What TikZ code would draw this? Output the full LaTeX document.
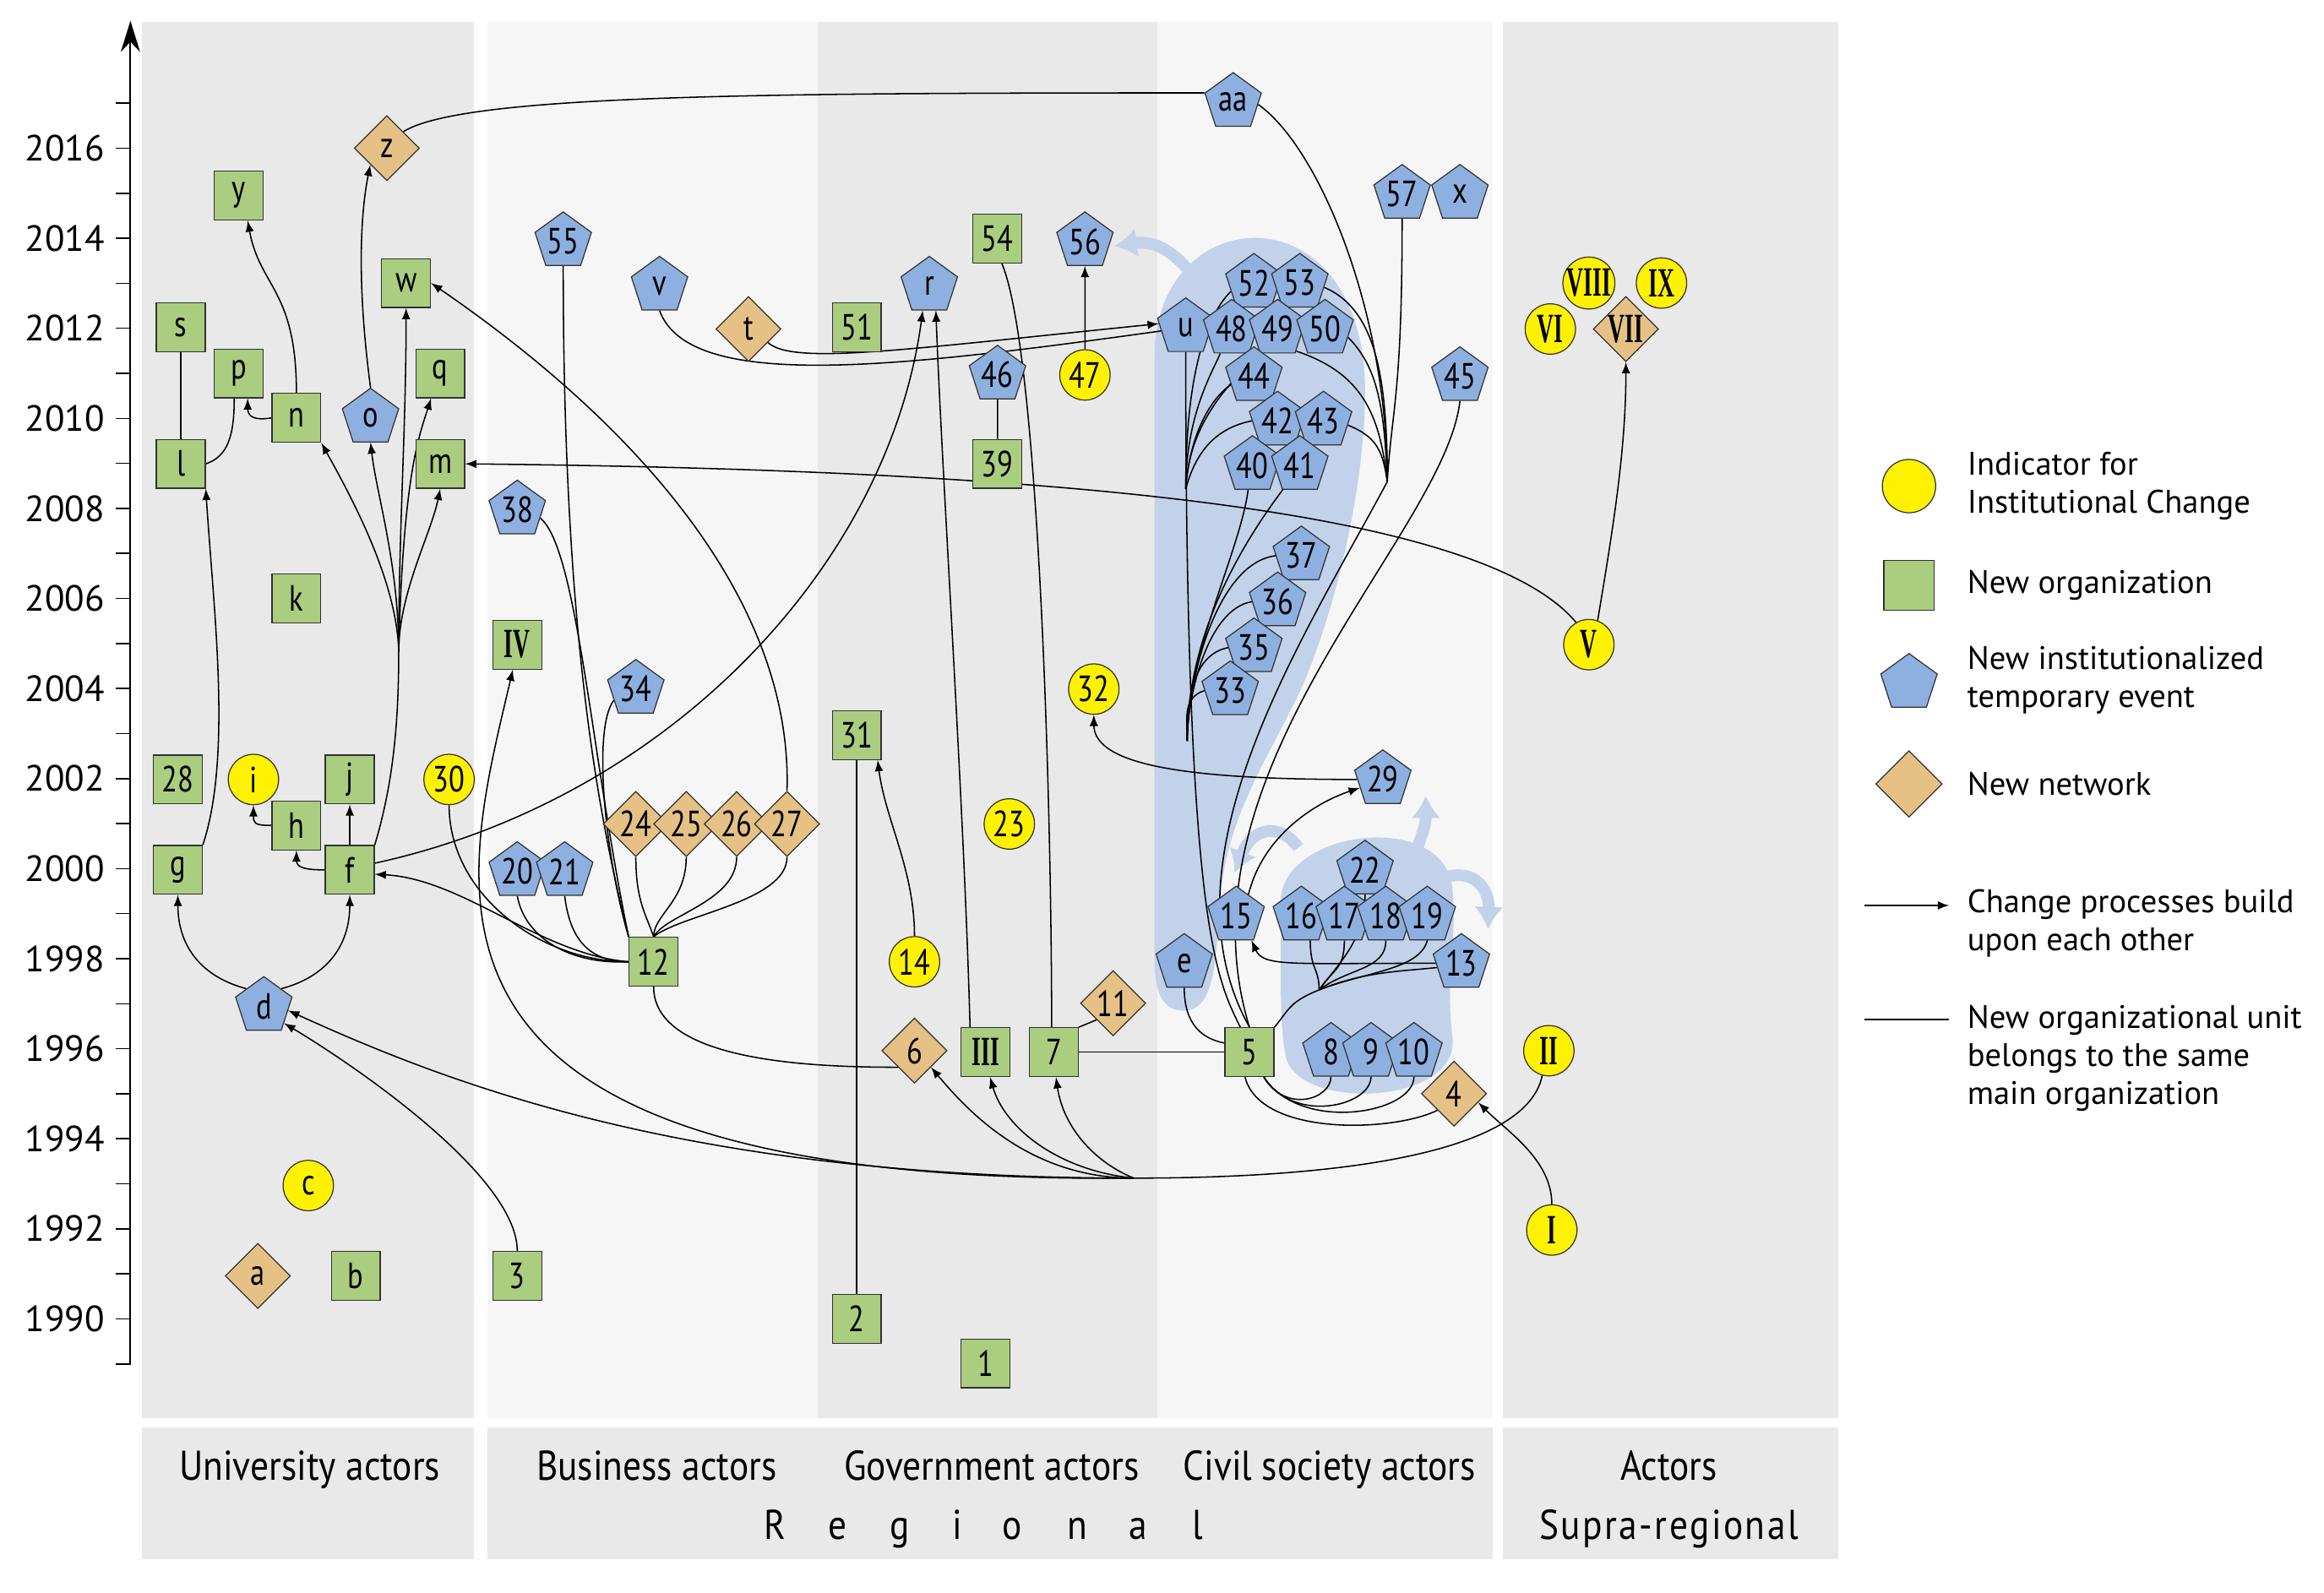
\documentclass[tikz,border=0pt]{standalone}
\usepackage{fontspec}
\setmainfont{PT Sans}
\newfontfamily\nodefont[FakeStretch=0.8]{PT Sans}
\newfontfamily\labelfont[FakeStretch=0.88]{PT Sans}
\newfontfamily\romanfont[FakeStretch=0.56]{Liberation Serif}
\usetikzlibrary{arrows, arrows.meta, shapes.geometric}
\definecolor{orggreen}{RGB}{170,205,128}
\definecolor{eventblue}{RGB}{142,176,224}
\definecolor{netorange}{RGB}{229,193,134}
\definecolor{indyellow}{RGB}{255,242,0}
\definecolor{banddark}{RGB}{233,233,233}
\definecolor{bandlight}{RGB}{246,246,246}
\definecolor{blobblue}{RGB}{194,210,234}
\definecolor{nodeline}{RGB}{50,50,50}
\pgfdeclarelayer{bands}
\pgfdeclarelayer{edges}
\pgfsetlayers{bands,edges,main}

\begin{document}
\begin{tikzpicture}[x=0.02cm, y=-0.02cm,
    shapetext/.style={inner sep=0pt, draw=nodeline, font=\nodefont\fontsize{14}{16}\selectfont},
    org/.style={shapetext, fill=orggreen, minimum size=0.66cm},
    event/.style={shapetext, regular polygon, regular polygon sides=5, fill=eventblue, minimum size=0.8cm},
    net/.style={shapetext, diamond, fill=netorange, minimum size=0.88cm},
    ind/.style={shapetext, circle, fill=indyellow, minimum size=0.68cm},
    rom/.style={font=\romanfont\bfseries\fontsize{16}{18}\selectfont},
    arr/.style={-latex, line width=0.5pt},
    same/.style={line width=0.5pt},
    blobarrow/.style={blobblue, line width=4.5pt, -{Latex[length=0.3cm, width=0.4cm]}},
    yearlabel/.style={anchor=east, inner sep=0pt, font=\fontsize{14}{16}\selectfont},
    bandlabel/.style={anchor=base, inner sep=0pt, font=\labelfont\fontsize{16}{18}\selectfont},
    legtext/.style={anchor=west, align=left, inner sep=0pt, font=\fontsize{12.5}{14.5}\selectfont}]
  \useasboundingbox (0,0) rectangle (1568,1074.4);

  \coordinate (YAxisMin) at (88,921);
  \coordinate (YAxisMax) at (88,14);
  \coordinate (FBundle) at (269,440);
  \coordinate (IIBundle) at (765,795);
  \coordinate (ULeft) at (800,330);
  \coordinate (ULow) at (801,500);
  \coordinate (URight) at (936,325);
  \coordinate (FiveFan) at (890,668);

  % actor columns and label bands
  \begin{pgfonlayer}{bands}
    \fill[banddark] (96,15) rectangle (320,957);
    \fill[bandlight] (329,15) rectangle (552,957);
    \fill[banddark] (552,15) rectangle (781,957);
    \fill[bandlight] (781,15) rectangle (1007,957);
    \fill[banddark] (1014,15) rectangle (1240,957);
    \fill[banddark] (96,963) rectangle (320,1052);
    \fill[banddark] (329,963) rectangle (1007,1052);
    \fill[banddark] (1014,963) rectangle (1240,1052);
    % clusters of events
    \fill[blobblue] (779,240) .. controls (779,135) and (921,125) .. (921,265)
      .. controls (921,320) and (905,400) .. (880,460)
      .. controls (860,505) and (830,545) .. (824,600)
      .. controls (820,640) and (822,680) .. (800,682)
      .. controls (785,683) and (779,670) .. (779,650) -- cycle;
    \fill[blobblue] (864,610) .. controls (862,560) and (975,545) .. (980,600)
      .. controls (983,640) and (975,660) .. (980,700)
      .. controls (985,745) and (880,750) .. (868,715)
      .. controls (862,690) and (865,640) .. (864,610) -- cycle;
    \draw[blobarrow] (805,186) .. controls (792,170) and (780,162) .. (752,166);
    \draw[blobarrow] (876,572) .. controls (864,555) and (845,558) .. (833,589);
    \draw[blobarrow] (955,580) .. controls (957,566) and (962,560) .. (962,537);
    \draw[blobarrow] (975,592) .. controls (995,586) and (1005,600) .. (1004,627);
  \end{pgfonlayer}

  \draw[line width=0.6pt, -{Stealth[length=0.42cm, width=0.26cm]}] (YAxisMin) -- (YAxisMax);% Draw time axis
  \foreach \yr in {1989,...,2017}
    \draw[line width=0.5pt] (78,{890-(\yr-1990)*30.385}) -- (88,{890-(\yr-1990)*30.385});
  \foreach \yr in {1990,1992,...,2016}
    \node[yearlabel] (Y\yr) at (71,{890-(\yr-1990)*30.385}) {\yr};

  % new organizations
  \foreach \n/\x/\y in {s/122/221, l/122/313, p/161/252, y/161/132, n/200/282, w/274/191,
      q/297/252, m/297/313, k/200/404, 28/120/526, j/236/526, h/200/557, f/236/587,
      g/120/587, b/240/861, 3/349/861, 12/441/649, 31/578/496, 2/578/890, 1/665/920,
      51/578/221, 54/673/161, 39/673/313, 7/711/710, 5/843/710}
    \node[org] (\n) at (\x,\y) {\n};
  \node[org, rom] (IV) at (349,435) {IV};
  \node[org, rom] (III) at (665,710) {III};

  % new institutionalized temporary events
  \foreach \n/\x/\y in {o/250/282, 55/380/163, v/445/193, r/627/193, 56/732/163, 46/673/253,
      aa/832/69, 57/946/131, x/985/131, 38/349/344, 34/429/465, 20/349/588, 21/381/588,
      d/178/679, 45/985/254, 52/846/191, 53/877/191, u/800/221, 48/831/222, 49/862/222,
      50/894/222, 44/846/254, 42/862/284, 43/893/284, 40/845/314, 41/877/314, 37/878/375,
      36/862/406, 35/846/437, 33/830/466, 29/933/526, 22/921/587, 15/834/618, 16/878/618,
      17/907/618, 18/935/618, 19/963/618, 13/986/650, e/799/650, 8/898/710, 9/925/710, 10/954/710}
    \node[event] (\n) at (\x,\y) {\n};

  % new networks
  \foreach \n/\x/\y in {z/261/100, t/505/222, a/174/861, 24/429/556, 25/463/556, 26/497/556,
      27/531/556, 6/617/709, 11/751/677, 4/981/738}
    \node[net] (\n) at (\x,\y) {\n};
  \node[net, rom] (VII) at (1097,222) {VII};

  % indicators for institutional change
  \foreach \n/\x/\y in {c/208/800, i/171/526, 30/303/526, 47/732/253, 32/738/465, 23/681/556, 14/617/649}
    \node[ind] (\n) at (\x,\y) {\n};
  \node[ind, rom] (I) at (1047,830) {I};
  \node[ind, rom] (II) at (1045,709) {II};
  \node[ind, rom] (V) at (1072,435) {V};
  \node[ind, rom] (VI) at (1046,222) {VI};
  \node[ind, rom] (VIII) at (1072,191) {VIII};
  \node[ind, rom] (IX) at (1121,191) {IX};

  \begin{pgfonlayer}{edges}
    % university actors
    \draw[same] (s) -- (l);
    \draw[same] (l.east) .. controls +(15,-5) and +(0,25) .. (p.-100);
    \draw[arr] (n.west) .. controls +(-12,2) and +(0,12) .. (p.-70);
    \draw[arr] (n.north) .. controls +(0,-70) and +(8,45) .. (y.-70);
    \draw[arr] (g.north east) .. controls +(20,-60) and +(5,80) .. (l.south east);
    \draw[arr] (o.north) .. controls +(-8,-60) and +(-8,40) .. (z.south west);
    \draw[arr] (d.north west) .. controls +(-30,-8) and +(0,35) .. (g.south);
    \draw[arr] (d.north east) .. controls +(30,-8) and +(0,35) .. (f.south);
    \draw[arr] (f.west) .. controls +(-12,0) and +(0,12) .. (h.south);
    \draw[arr] (h.west) .. controls +(-12,0) and +(0,12) .. (i.south);
    \draw[arr] (f.north) -- (j.south);
    \draw[same] (f.north east) .. controls +(12,-40) and +(0,50) .. (FBundle);
    \draw[arr] (FBundle) .. controls +(-1,-50) and +(17,31) .. (n.south east);
    \draw[arr] (FBundle) .. controls +(0,-60) and +(4,35) .. (o.south);
    \draw[arr] (FBundle) .. controls +(0,-80) and +(0,80) .. (w.south);
    \draw[arr] (FBundle) .. controls +(3,-120) and +(-8,25) .. (q.-110);
    \draw[arr] (FBundle) .. controls +(0,-40) and +(-6,30) .. (m.south);
    \draw[arr] (3.north) .. controls +(0,-50) and +(50,30) .. (d.-40);
    % supra-regional change spreading
    \draw[same] (II.-105) .. controls +(-10,50) and +(150,0) .. (IIBundle);
    \draw[arr] (IIBundle) .. controls +(-70,0) and +(25,30) .. (6.south east);
    \draw[arr] (IIBundle) .. controls +(-50,-5) and +(10,35) .. (III.-80);
    \draw[arr] (IIBundle) .. controls +(-25,-10) and +(5,35) .. (7.-85);
    \draw[arr] (IIBundle) .. controls +(-300,0) and +(110,50) .. (d.-10);
    \draw[arr] (IIBundle) .. controls +(-515,5) and +(-35,150) .. (IV.-100);
    % business actors
    \draw[arr] (12.west) .. controls +(-60,-5) and +(60,3) .. (f.-10);
    \draw[arr] (f.15) .. controls +(198,-43) and +(-23,172) .. (r.-105);
    \draw[arr] (III.122) .. controls +(-4,-150) and +(4,110) .. (r.-75);
    \draw[same] (20.south) .. controls +(5,28) and +(-40,2) .. (12.west);
    \draw[same] (21.south) .. controls +(3,25) and +(-30,0) .. (12.west);
    \draw[same] (30.south) .. controls +(0,60) and +(-60,0) .. (12.west);
    \draw[same] (34.207) .. controls +(-15,20) and +(-15,-50) .. (12.north west);
    \draw[same] (38.-20) .. controls +(25,20) and +(-25,-120) .. (12.north west);
    \draw[same] (55.south) .. controls +(0,250) and +(-20,-80) .. (12.north west);
    \foreach \k/\c in {24/-5, 25/0, 26/8, 27/18}
      \draw[same] (12.north) .. controls +(\c,-15) and +(0,30) .. (\k.south);
    \draw[same] (12.south) .. controls +(0,50) and +(-60,0) .. (6.south west);
    \draw[arr] (27.north) .. controls +(4,-134) and +(130,89) .. (w.east);
    % government actors
    \draw[same] (2) -- (31);
    \draw[arr] (14.north) .. controls +(0,-45) and +(5,40) .. (31.-50);
    \draw[same] (54.-80) .. controls +(25,60) and +(0,-150) .. (7.95);
    \draw[same] (46) -- (39);
    \draw[arr] (47) -- (56);
    \draw[same] (7) -- (5);
    \draw[same] (7.north east) -- (11.south west);
    \draw[arr] (t.-35) .. controls +(17,15) and +(-177,18) .. (u.172);
    \draw[same] (v.south) .. controls +(20,55) and +(-180,25) .. (u.188);
    % civil society actors
    \draw[same] (z.north east) .. controls +(40,-25) and +(-300,0) .. (aa.162);
    \draw[same] (u.south) .. controls +(0,383) and +(-17,-34) .. (5.110);
    \draw[same] (ULeft) .. controls +(0,-50) and +(-5,12) .. (48.-115);
    \draw[same] (ULeft) .. controls +(2,-50) and +(-12,12) .. (49.-125);
    \draw[same] (ULeft) .. controls +(0,-90) and +(-12,12) .. (52.200);
    \draw[same] (ULeft) .. controls +(3,-40) and +(-12,8) .. (44.200);
    \draw[same] (ULeft) .. controls +(8,-30) and +(-20,4) .. (42.west);
    \draw[same] (40.-100) .. controls +(-5,40) and +(0,-60) .. (ULow);
    \draw[same] (41.-125) .. controls +(-30,40) and +(0,-70) .. (ULow);
    \draw[same] (37.west) .. controls +(-40,5) and +(0,-40) .. (ULow);
    \draw[same] (36.west) .. controls +(-30,5) and +(0,-30) .. (ULow);
    \draw[same] (35.west) .. controls +(-25,5) and +(0,-25) .. (ULow);
    \draw[same] (33.west) .. controls +(-15,5) and +(0,-15) .. (ULow);
    \draw[same] (aa.-5) .. controls +(41,29) and +(0,-115) .. (URight);
    \draw[same] (57.south) .. controls +(0,120) and +(3,-50) .. (URight);
    \draw[same] (53.-10) .. controls +(35,15) and +(0,-70) .. (URight);
    \draw[same] (50.-20) .. controls +(20,20) and +(-2,-50) .. (URight);
    \draw[same] (49.-50) .. controls +(45,15) and +(-5,-45) .. (URight);
    \draw[same] (43.-10) .. controls +(20,8) and +(-3,-20) .. (URight);
    \draw[same] (URight) .. controls +(-56,105) and +(-63,-113) .. (5.north);
    \draw[same] (45.south) .. controls +(-10,90) and +(-53,-173) .. (5.north);
    \draw[same] (e.south) .. controls +(0,25) and +(-15,-3) .. (5.160);
    \draw[same] (5.north east) .. controls +(10,-12) and +(-20,8) .. (FiveFan);
    \draw[same] (FiveFan) .. controls +(0,-15) and +(0,20) .. (16.-70);
    \draw[same] (FiveFan) .. controls +(10,-15) and +(0,20) .. (17.south);
    \draw[same] (FiveFan) .. controls +(15,-20) and +(0,30) .. (22.south);
    \draw[same] (FiveFan) .. controls +(20,-15) and +(0,20) .. (18.south);
    \draw[same] (FiveFan) .. controls +(30,-12) and +(-5,20) .. (19.south);
    \draw[same] (FiveFan) .. controls +(30,-12) and +(-30,3) .. (13.190);
    \draw[arr] (13.west) .. controls +(-100,0) and +(8,18) .. (15.-58);
    \draw[arr] (15.60) .. controls +(10,-40) and +(-30,10) .. (29.200);
    \draw[arr] (29.west) .. controls +(-110,0) and +(0,35) .. (32.south);
    \draw[same] (5.-60) .. controls +(15,25) and +(0,15) .. (8.south);
    \draw[same] (5.-60) .. controls +(20,32) and +(0,20) .. (9.south);
    \draw[same] (5.-60) .. controls +(25,38) and +(0,25) .. (10.south);
    \draw[same] (5.-100) .. controls +(10,40) and +(-30,15) .. (4.south west);
    \draw[arr] (I.north) .. controls +(0,-30) and +(20,20) .. (4.-20);
    \draw[arr] (V.70) .. controls +(10,-60) and +(0,60) .. (VII.south);
    \draw[arr] (V.120) .. controls +(-65,-78) and +(386,4) .. (m.east);
  \end{pgfonlayer}

  % actor labels
  \node[bandlabel] (LblUni) at (209,999) {University actors};
  \node[bandlabel] (LblBus) at (443,999) {Business actors};
  \node[bandlabel] (LblGov) at (669,999) {Government actors};
  \node[bandlabel] (LblCiv) at (897,999) {Civil society actors};
  \node[bandlabel] (LblAct) at (1126,999) {Actors};
  \foreach \ch/\x in {R/523, e/565, g/607, i/646, o/683, n/727, a/768, l/808}
    \node[bandlabel] (Reg\ch) at (\x,1039) {\ch};
  \node[bandlabel, font=\labelfont\fontsize{16}{18}\selectfont\addfontfeature{LetterSpace=5}] (LblSupra) at (1126,1039) {Supra-regional};

  % legend
  \node[ind, minimum size=0.72cm] (LegInd) at (1288,328) {};
  \node[org, minimum size=0.68cm] (LegOrg) at (1288,395) {};
  \node[event] (LegEvent) at (1288,461) {};
  \node[net, minimum size=0.9cm] (LegNet) at (1288,529) {};
  \coordinate (LegArrA) at (1258,611);
  \coordinate (LegArrB) at (1315,611);
  \coordinate (LegLineA) at (1258,688);
  \coordinate (LegLineB) at (1315,688);
  \draw[arr] (LegArrA) -- (LegArrB);
  \draw[same] (LegLineA) -- (LegLineB);
  \node[legtext] (TxtInd) at (1327,328) {Indicator for\\Institutional Change};
  \node[legtext] (TxtOrg) at (1327,395) {New organization};
  \node[legtext] (TxtEvent) at (1327,459) {New institutionalized\\temporary event};
  \node[legtext] (TxtNet) at (1327,529) {New network};
  \node[legtext] (TxtArr) at (1327,623) {Change processes build\\upon each other};
  \node[legtext] (TxtLine) at (1327,714) {New organizational unit\\belongs to the same\\main organization};
\end{tikzpicture}
\end{document}
